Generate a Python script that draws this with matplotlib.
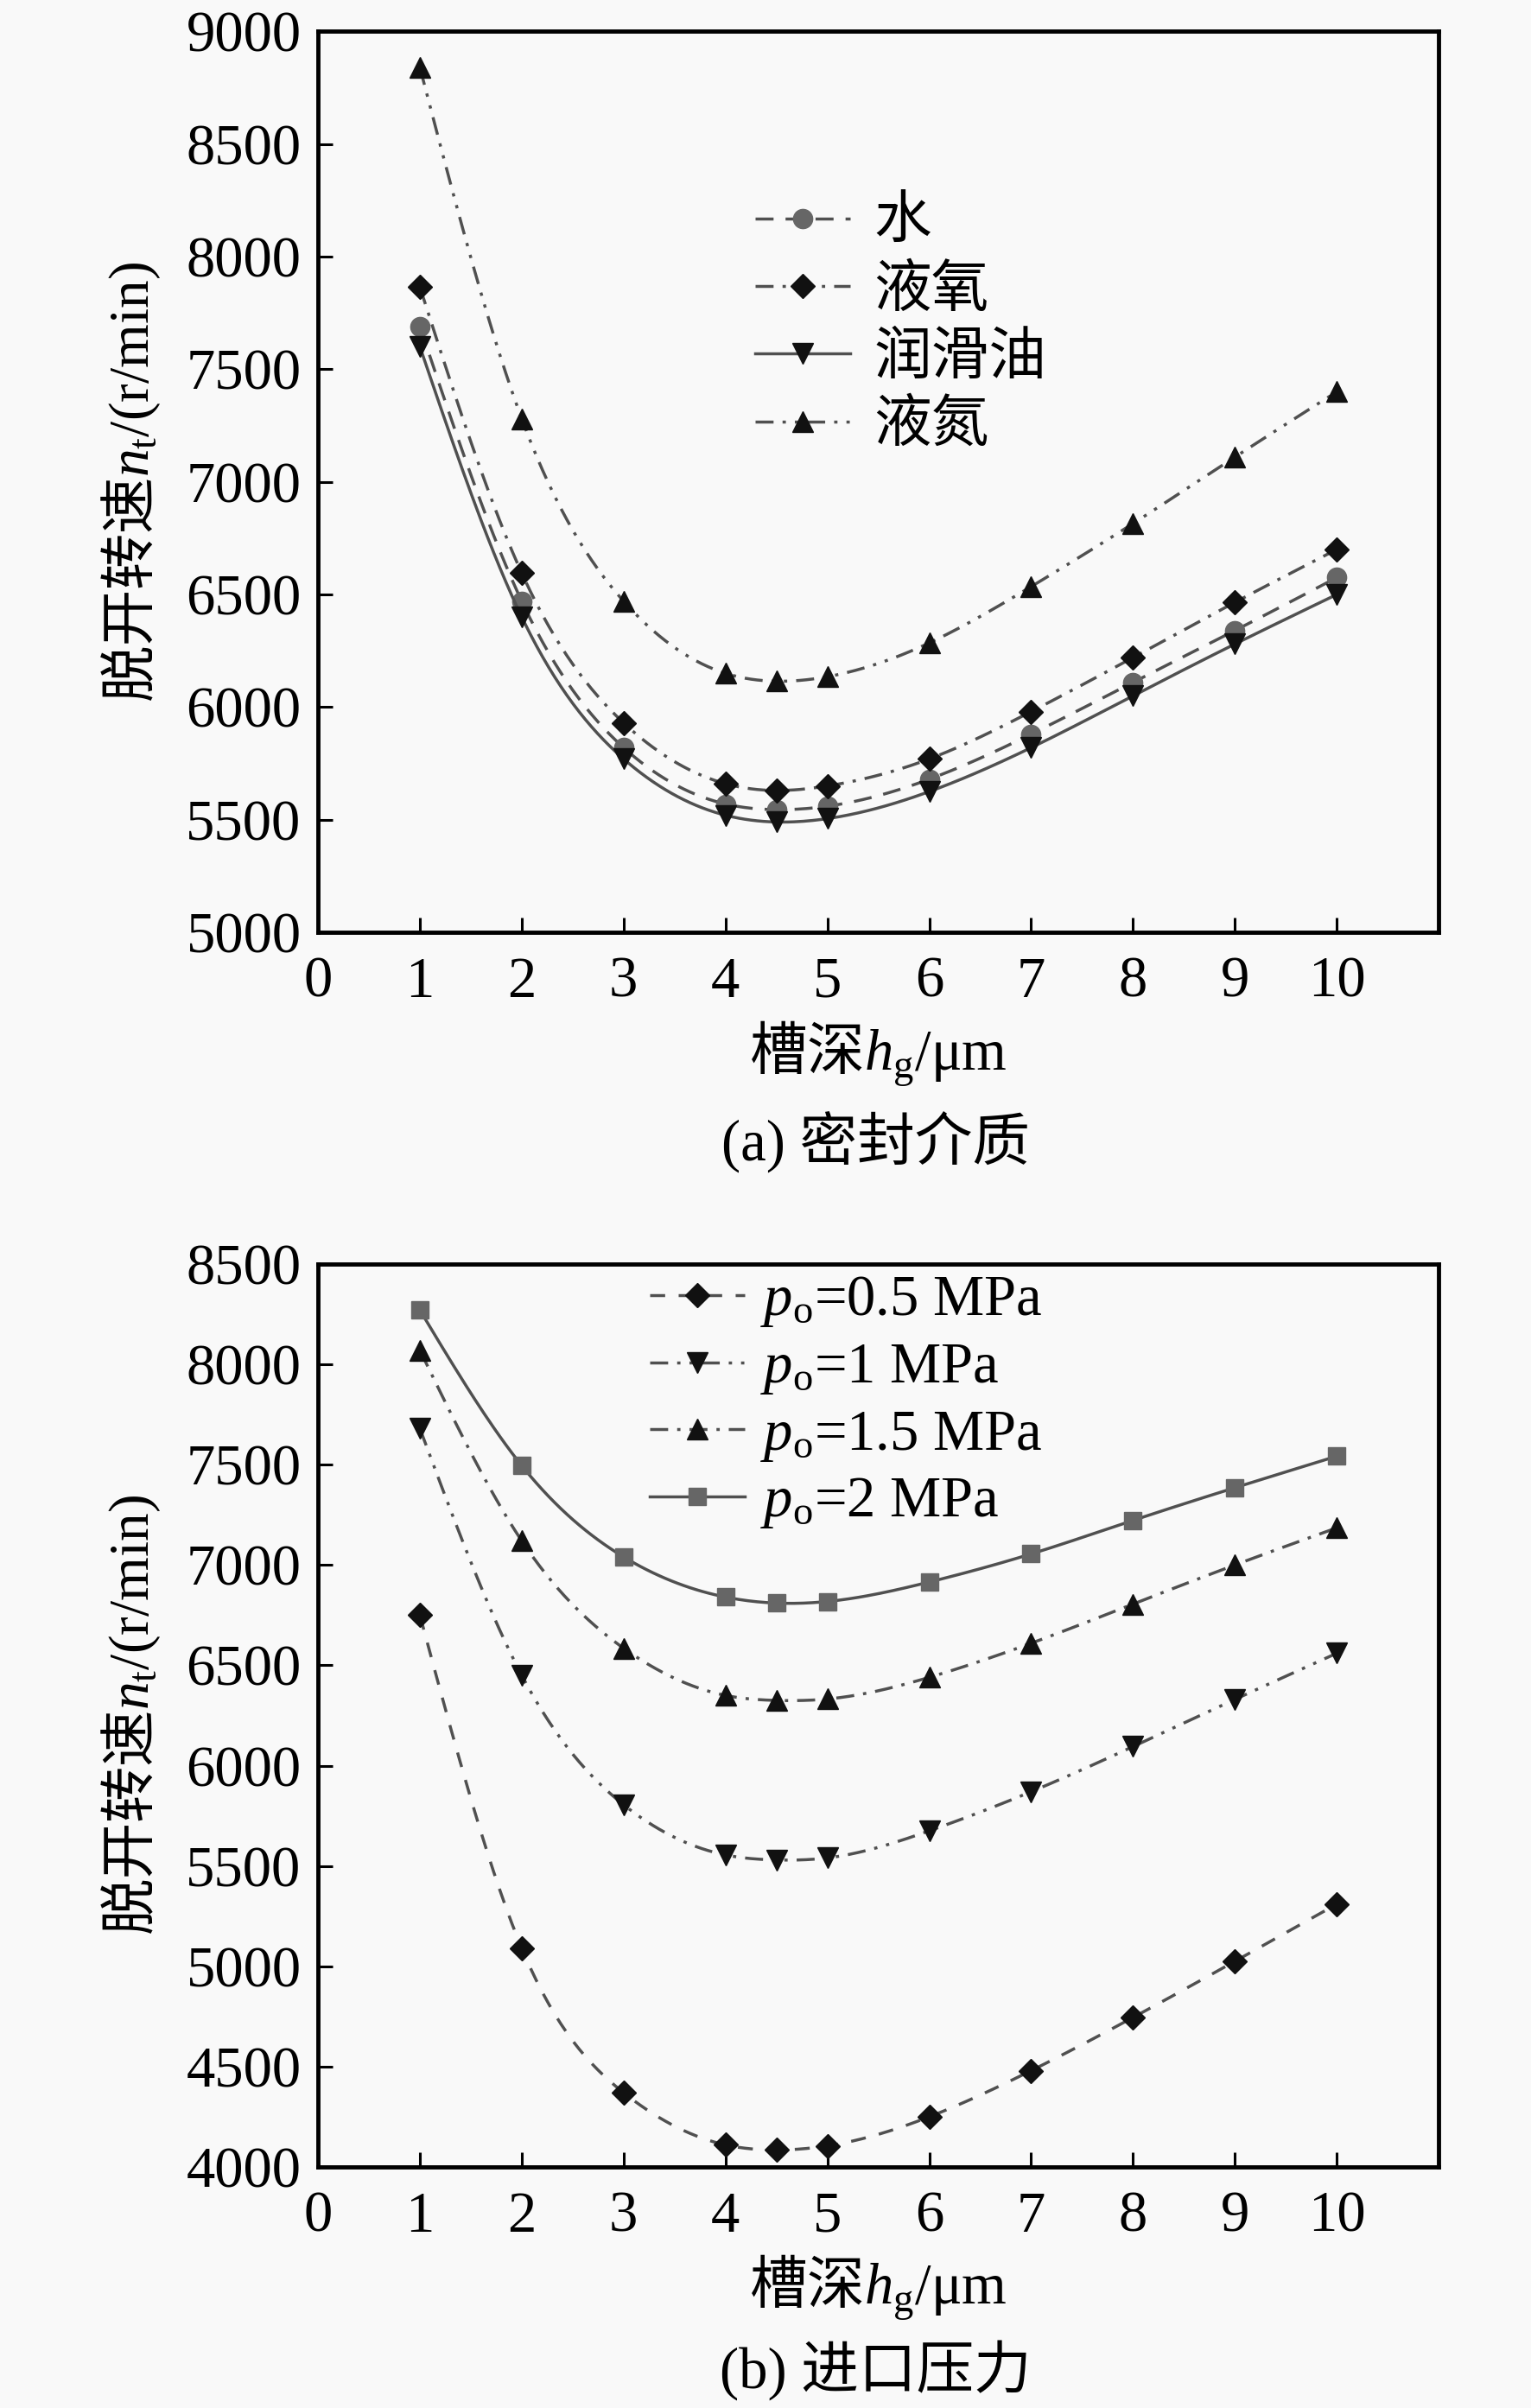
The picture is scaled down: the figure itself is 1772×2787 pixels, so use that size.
import numpy as np
import matplotlib
matplotlib.use('Agg')
from matplotlib import pyplot as plt

plt.rcParams['mathtext.fontset'] = 'custom'
plt.rcParams['mathtext.rm'] = 'Liberation Serif'
plt.rcParams['mathtext.it'] = 'Liberation Serif:italic'
plt.rcParams['font.family'] = ['Liberation Serif', 'Noto Sans CJK SC']

# groove depth h_g (um)
hg = [1, 2, 3, 4, 4.5, 5, 6, 7, 8, 9, 10]

# (a) seal medium
water = [7690, 6470, 5820, 5570, 5545, 5560, 5680, 5880, 6110, 6340, 6575]
lox = [7865, 6595, 5930, 5660, 5630, 5650, 5770, 5980, 6220, 6465, 6700]
oil = [7600, 6400, 5770, 5520, 5490, 5505, 5625, 5820, 6050, 6280, 6500]
ln2 = [8840, 7280, 6470, 6150, 6115, 6135, 6285, 6535, 6815, 7110, 7400]
labels_a = ['水', '液氧', '润滑油', '液氮']

# (b) inlet pressure
p05 = [6750, 5090, 4370, 4110, 4085, 4105, 4250, 4480, 4745, 5025, 5310]
p10 = [7680, 6450, 5805, 5555, 5530, 5540, 5675, 5870, 6095, 6330, 6560]
p15 = [8070, 7120, 6585, 6350, 6325, 6332, 6440, 6610, 6805, 7000, 7185]
p20 = [8270, 7495, 7040, 6840, 6810, 6818, 6915, 7055, 7222, 7385, 7542]
labels_b = ['$p_\\mathrm{o}$=0.5 MPa', '$p_\\mathrm{o}$=1 MPa',
            '$p_\\mathrm{o}$=1.5 MPa', '$p_\\mathrm{o}$=2 MPa']


def spline(x, y, n=300):
    # natural cubic spline, just for drawing the smooth curve
    x = np.asarray(x, float)
    y = np.asarray(y, float)
    k = len(x)
    h = np.diff(x)
    A = np.zeros((k, k))
    b = np.zeros(k)
    A[0, 0] = A[-1, -1] = 1
    for i in range(1, k - 1):
        A[i, i - 1] = h[i - 1]
        A[i, i] = 2 * (h[i - 1] + h[i])
        A[i, i + 1] = h[i]
        b[i] = 6 * ((y[i + 1] - y[i]) / h[i] - (y[i] - y[i - 1]) / h[i - 1])
    M = np.linalg.solve(A, b)
    xs = np.linspace(x[0], x[-1], n)
    j = np.clip(np.searchsorted(x, xs) - 1, 0, k - 2)
    t1 = x[j + 1] - xs
    t0 = xs - x[j]
    hj = h[j]
    ys = (M[j] * t1 ** 3 + M[j + 1] * t0 ** 3) / (6 * hj) \
        + (y[j] / hj - M[j] * hj / 6) * t1 + (y[j + 1] / hj - M[j + 1] * hj / 6) * t0
    return xs, ys


LC = '#505050'
LW = 2.5
bg = '#f9f9f9'
fig = plt.figure(figsize=(17.72, 27.87), dpi=100, facecolor=bg)
ax1 = fig.add_axes([0.2077, 0.6128, 0.732, 0.3742])
ax2 = fig.add_axes([0.2077, 0.1001, 0.732, 0.3750])

styles_a = [
    (water, 'o', '#666666', 16, (6, 4)),
    (lox, 'D', '#111111', 14, (6, 3, 1.1, 3)),
    (oil, 'v', '#111111', 17, None),
    (ln2, '^', '#111111', 17, (6, 3, 1.1, 3, 1.1, 3)),
]
styles_b = [
    (p05, 'D', '#111111', 14, (5, 4.5)),
    (p10, 'v', '#111111', 17, (6, 3, 1.1, 3, 1.1, 3)),
    (p15, '^', '#111111', 17, (6, 3, 1.1, 3)),
    (p20, 's', '#666666', 15, None),
]


def draw(ax, styles, labels):
    handles = []
    for (vals, mk, mc, ms, dash), lab in zip(styles, labels):
        xs, ys = spline(hg, vals)
        ln, = ax.plot(xs, ys, color=LC, lw=LW)
        if dash is not None:
            ln.set_dashes(dash)
        ax.plot(hg, vals, ls='none', marker=mk, ms=ms, color=mc, mec=mc)
        h, = ax.plot([], [], color=LC, lw=LW, marker=mk, ms=ms, mfc=mc, mec=mc)
        if dash is not None:
            h.set_dashes(dash)
        handles.append(h)
    ax.set_facecolor(bg)
    ax.set_xlim(0, 11)
    ax.set_xticks(range(0, 11))
    ax.tick_params(direction='in', length=12, width=2.2, labelsize=48)
    ax.tick_params(axis='x', pad=20)
    ax.tick_params(axis='y', pad=14)
    for s in ax.spines.values():
        s.set_linewidth(3.5)
    for t in ax.get_xticklabels() + ax.get_yticklabels():
        t.set_family('Liberation Serif')
    return handles


h1 = draw(ax1, styles_a, labels_a)
ax1.set_ylim(5000, 9000)
ax1.set_yticks(range(5000, 9001, 500))
h2 = draw(ax2, styles_b, labels_b)
ax2.set_ylim(4000, 8500)
ax2.set_yticks(range(4000, 8501, 500))

ax1.legend(h1, labels_a, loc='upper left', bbox_to_anchor=(0.364, 0.852), frameon=False,
           handlelength=1.65, handletextpad=0.42, labelspacing=0.16, borderpad=0,
           numpoints=1, prop={'family': 'Noto Sans CJK SC', 'size': 48})
ax2.legend(h2, labels_b, loc='upper left', bbox_to_anchor=(0.27, 1.02), frameon=False,
           handlelength=1.65, handletextpad=0.28, labelspacing=0.22, borderpad=0,
           numpoints=1, prop={'family': 'Liberation Serif', 'size': 48})

ylab = '脱开转速$n_\\mathrm{t}\\mathrm{/(r/min)}$'
xlab = '槽深$h_\\mathrm{g}\\mathrm{/\\mu m}$'
for ax in (ax1, ax2):
    ax.set_ylabel(ylab, family='Noto Sans CJK SC', fontsize=47, labelpad=20)
    ax.set_xlabel(xlab, family='Noto Sans CJK SC', fontsize=48, labelpad=8)

fig.text(0.572, 0.5255, '(a) 密封介质', ha='center', va='center', fontsize=48,
         family=['Liberation Serif', 'Noto Sans CJK SC'])
fig.text(0.572, 0.0155, '(b) 进口压力', ha='center', va='center', fontsize=48,
         family=['Liberation Serif', 'Noto Sans CJK SC'])

fig.savefig('out.png', dpi=100, facecolor=bg)
